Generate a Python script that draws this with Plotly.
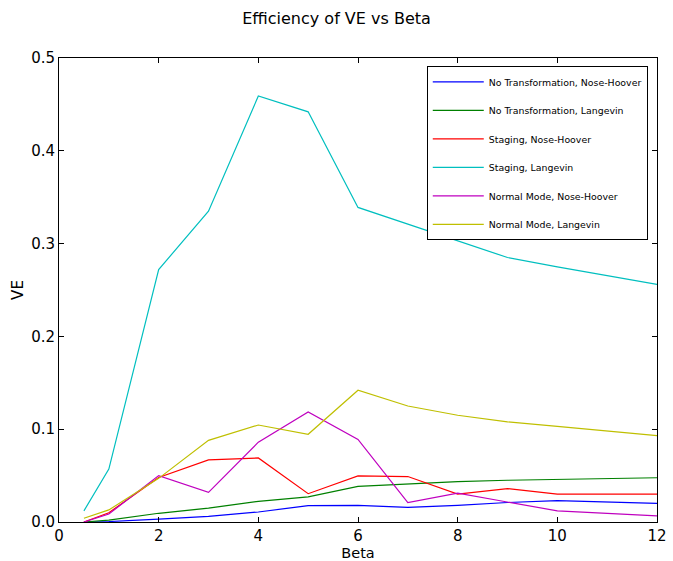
import plotly.graph_objects as go

beta = [0.5, 1, 2, 3, 4, 5, 6, 7, 8, 9, 10, 12]
no_trans_nh = [0.0, 0.0005, 0.003, 0.006, 0.0108, 0.0176, 0.018, 0.0158, 0.018, 0.021, 0.023, 0.020]
no_trans_lg = [0.0, 0.002, 0.0094, 0.015, 0.0223, 0.027, 0.0384, 0.041, 0.0435, 0.045, 0.046, 0.0477]
staging_nh = [0.0, 0.010, 0.048, 0.067, 0.069, 0.0305, 0.0496, 0.049, 0.030, 0.036, 0.030, 0.030]
staging_lg = [0.012, 0.057, 0.272, 0.335, 0.459, 0.442, 0.339, 0.321, 0.303, 0.285, 0.275, 0.256]
normal_nh = [0.0, 0.0086, 0.050, 0.032, 0.086, 0.1185, 0.089, 0.021, 0.031, 0.0215, 0.012, 0.0065]
normal_lg = [0.004, 0.013, 0.047, 0.088, 0.1045, 0.0945, 0.142, 0.125, 0.115, 0.108, 0.103, 0.093]

names = ["No Transformation, Nose-Hoover", "No Transformation, Langevin",
         "Staging, Nose-Hoover", "Staging, Langevin",
         "Normal Mode, Nose-Hoover", "Normal Mode, Langevin"]
series = [no_trans_nh, no_trans_lg, staging_nh, staging_lg, normal_nh, normal_lg]
colors = ["#0000ff", "#008000", "#ff0000", "#00bfbf", "#bf00bf", "#bfbf00"]

fig = go.Figure()
for i, (n, s, c) in enumerate(zip(names, series, colors)):
    fig.add_trace(go.Scatter(x=beta, y=s, mode="lines", name=n,
                             line=dict(color=c, width=1.2), legendgroup=str(i)))

axis_common = dict(showline=True, linecolor="black", linewidth=1, mirror="ticks",
                   ticks="inside", ticklen=5, tickcolor="black", showgrid=False,
                   zeroline=False, automargin=False,
                   tickfont=dict(size=15, color="black"))

fig.update_layout(
    width=673, height=561,
    paper_bgcolor="white", plot_bgcolor="white",
    font=dict(family="DejaVu Sans", color="black"),
    margin=dict(l=59, r=16, t=58, b=39),
    title=dict(text="Efficiency of VE vs Beta", x=0.5, xanchor="center",
               y=1 - 18 / 561, yanchor="middle", font=dict(size=16)),
    xaxis=dict(range=[0, 12], tickvals=[0, 2, 4, 6, 8, 10, 12],
               title=dict(text="Beta", font=dict(size=14.5), standoff=5), **axis_common),
    yaxis=dict(range=[0, 0.5], tickvals=[0, 0.1, 0.2, 0.3, 0.4, 0.5],
               tickformat=".1f",
               title=dict(text="VE", font=dict(size=15), standoff=3), **axis_common),
    legend=dict(x=0.615, y=0.982, xanchor="left", yanchor="top",
                bordercolor="black", borderwidth=1, bgcolor="white",
                font=dict(size=9.4), tracegroupgap=9.5, itemwidth=51,
                entrywidth=204, entrywidthmode="pixels"),
)

fig.write_html("out.html")
